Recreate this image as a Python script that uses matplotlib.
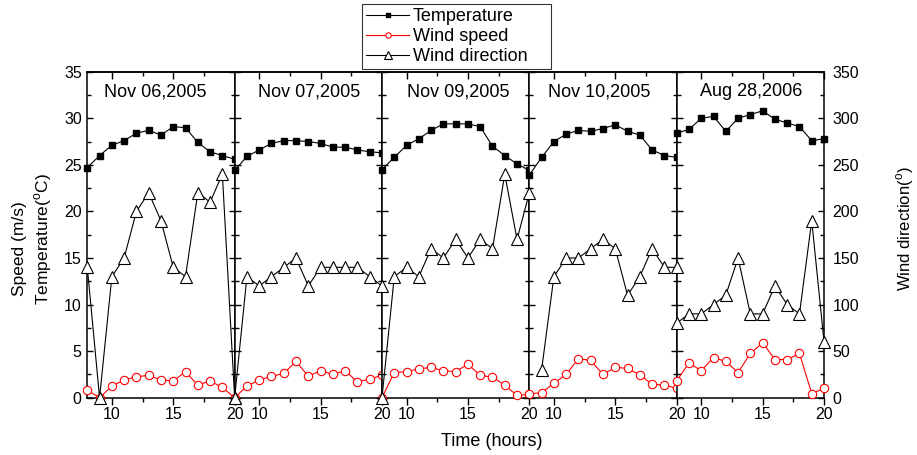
import numpy as np
import matplotlib
matplotlib.use('Agg')
import matplotlib.pyplot as plt
from matplotlib.ticker import MultipleLocator

plt.rcParams['font.family'] = ['Liberation Sans', 'DejaVu Sans']
plt.rcParams['mathtext.fontset'] = 'custom'
plt.rcParams['mathtext.rm'] = 'Liberation Sans'

# hours of the day, same for every panel
hours = [8, 9, 10, 11, 12, 13, 14, 15, 16, 17, 18, 19, 20]
dates = ['Nov 06,2005', 'Nov 07,2005', 'Nov 09,2005', 'Nov 10,2005', 'Aug 28,2006']

# temperature (C)
temp_nov06 = [24.7, 26.0, 27.1, 27.6, 28.4, 28.7, 28.2, 29.1, 29.0, 27.4, 26.4, 26.0, 25.6]
temp_nov07 = [24.4, 25.9, 26.6, 27.3, 27.6, 27.6, 27.5, 27.3, 26.9, 26.9, 26.6, 26.4, 26.3]
temp_nov09 = [24.5, 25.8, 27.1, 27.8, 28.7, 29.4, 29.4, 29.4, 29.1, 27.0, 26.0, 25.1, 24.4]
temp_nov10 = [23.9, 25.8, 27.5, 28.3, 28.7, 28.6, 28.9, 29.3, 28.6, 28.2, 26.6, 26.0, 25.8]
temp_aug28 = [28.4, 28.8, 30.0, 30.2, 28.6, 30.0, 30.4, 30.8, 29.9, 29.5, 29.1, 27.6, 27.8]

# wind speed (m/s)
speed_nov06 = [0.8, 0.0, 1.25, 1.9, 2.25, 2.4, 1.9, 1.8, 2.8, 1.35, 1.8, 1.1, 0.0]
speed_nov07 = [0.0, 1.25, 1.9, 2.3, 2.6, 3.9, 2.3, 2.9, 2.5, 2.9, 1.7, 2.0, 2.4]
speed_nov09 = [0.0, 2.7, 2.8, 3.1, 3.25, 2.9, 2.8, 3.6, 2.4, 2.2, 1.35, 0.25, 0.35]
speed_nov10 = [0.4, 0.55, 1.55, 2.5, 4.2, 4.0, 2.5, 3.25, 3.15, 2.45, 1.45, 1.35, 1.0]
speed_aug28 = [1.8, 3.75, 2.9, 4.3, 3.9, 2.7, 4.75, 5.9, 4.1, 4.1, 4.75, 0.45, 1.0]

# wind direction (deg), nan = no reading
dir_nov06 = [140, 0, 130, 150, 200, 220, 190, 140, 130, 220, 210, 240, 0]
dir_nov07 = [0, 130, 120, 130, 140, 150, 120, 140, 140, 140, 140, 130, 120]
dir_nov09 = [0, 130, 140, 130, 160, 150, 170, 150, 170, 160, 240, 170, 220]
dir_nov10 = [np.nan, 30, 130, 150, 150, 160, 170, 160, 110, 130, 160, 140, 140]
dir_aug28 = [80, 90, 90, 100, 110, 150, 90, 90, 120, 100, 90, 190, 60]

temps = [temp_nov06, temp_nov07, temp_nov09, temp_nov10, temp_aug28]
speeds = [speed_nov06, speed_nov07, speed_nov09, speed_nov10, speed_aug28]
dirs = [dir_nov06, dir_nov07, dir_nov09, dir_nov10, dir_aug28]

# where the date sits inside each panel (axes fraction)
date_x = [0.463, 0.508, 0.52, 0.472, 0.506]

fig = plt.figure(figsize=(9.17, 4.55), dpi=100)
axes = fig.subplots(1, 5, sharey=True, gridspec_kw=dict(wspace=0))
fig.subplots_adjust(left=0.0952, right=0.8986, bottom=0.1259, top=0.8424)

tick_fs = 11.5
for i, ax in enumerate(axes):
    ax2 = ax.twinx()
    lt, = ax.plot(hours, temps[i], '-s', color='black', lw=0.8, ms=5,
                  clip_on=False, zorder=3, label='Temperature')
    ls, = ax.plot(hours, speeds[i], '-o', color='red', lw=0.8, ms=6,
                  mfc='white', mec='red', mew=0.8, clip_on=False, zorder=3,
                  label='Wind speed')
    ld, = ax2.plot(hours, dirs[i], '-^', color='black', lw=0.8, ms=8.5,
                   mfc='white', mec='black', mew=0.8, clip_on=False,
                   label='Wind direction')

    ax.set_xlim(8, 20)
    ax.set_ylim(0, 35)
    ax2.set_ylim(0, 350)
    ax.set_xticks([10, 15, 20])
    ax.set_xticks([12.5, 17.5], minor=True)
    ax.yaxis.set_major_locator(MultipleLocator(5))
    ax.yaxis.set_minor_locator(MultipleLocator(2.5))
    ax2.yaxis.set_major_locator(MultipleLocator(50))
    ax2.yaxis.set_minor_locator(MultipleLocator(25))

    ax.tick_params(axis='x', which='both', direction='out', top=False,
                   labelsize=tick_fs, pad=2)
    ax.tick_params(axis='x', which='major', length=5, width=1)
    ax.tick_params(axis='x', which='minor', length=3, width=1)
    ax.tick_params(axis='y', which='both', direction='in', right=False,
                   labelleft=(i == 0), labelsize=tick_fs, pad=4)
    ax.tick_params(axis='y', which='major', length=4.5, width=1)
    ax.tick_params(axis='y', which='minor', length=3, width=1)
    ax2.tick_params(axis='y', which='both', direction='in',
                    labelright=(i == 4), labelsize=tick_fs, pad=6)
    ax2.tick_params(axis='y', which='major', length=4.5, width=1)
    ax2.tick_params(axis='y', which='minor', length=3, width=1)

    # inward ticks along the top edge
    top = ax.secondary_xaxis('top')
    top.set_xticks([10, 15, 20])
    top.set_xticks([12.5, 17.5], minor=True)
    top.tick_params(which='both', direction='in', labeltop=False, width=1)
    top.tick_params(which='major', length=5)
    top.tick_params(which='minor', length=3)
    top.spines['top'].set_linewidth(1.1)

    for s in ax.spines.values():
        s.set_linewidth(1.1)
    for s in ax2.spines.values():
        s.set_visible(False)

    ax.text(date_x[i], 0.939, dates[i], transform=ax.transAxes,
            ha='center', va='center', fontsize=13)

    if i == 0:
        handles = [lt, ls, ld]

fig.text(20 / 917, 1 - 249 / 455, 'Speed (m/s)', rotation=90,
         ha='center', va='center', fontsize=12.5)
fig.text(43 / 917, 1 - 239 / 455, r'Temperature($^{\rm o}$C)', rotation=90,
         ha='center', va='center', fontsize=12.5)
fig.text(905 / 917, 1 - 229 / 455, r'Wind direction($^{\rm o}$)', rotation=90,
         ha='center', va='center', fontsize=12)
fig.text(492 / 917, 1 - 441 / 455, 'Time (hours)', ha='center', va='center',
         fontsize=13)

leg = fig.legend(handles, [h.get_label() for h in handles], loc='upper left',
                 bbox_to_anchor=(362 / 917, 1 - 67 / 455, 189 / 917, 63 / 455),
                 mode='expand', borderaxespad=0,
                 fontsize=13, frameon=True, fancybox=False, edgecolor='black',
                 markerscale=0.65, handlelength=2.4, handletextpad=0.2,
                 labelspacing=0.18, borderpad=0.22)
leg.get_frame().set_linewidth(0.8)

fig.savefig('out.png', dpi=100)
